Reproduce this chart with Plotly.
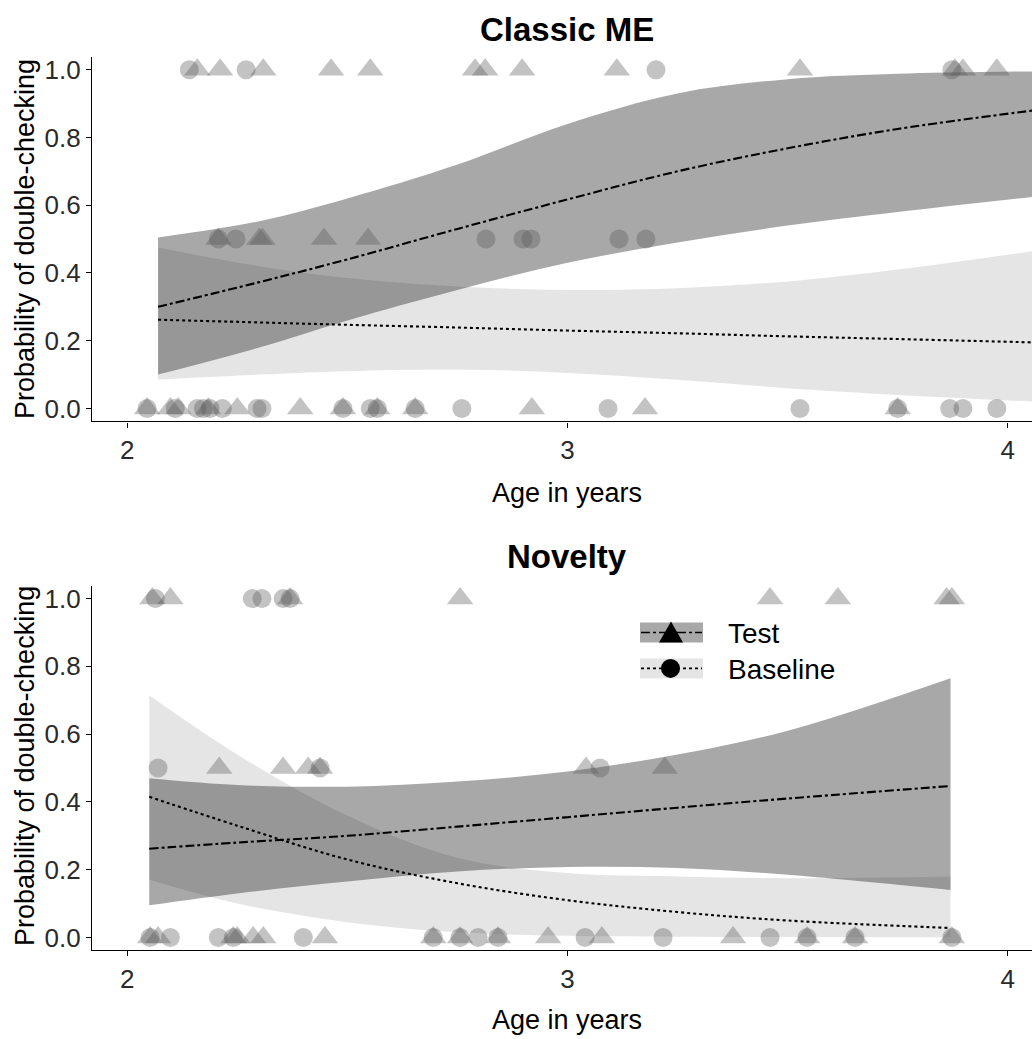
import plotly.graph_objects as go

# ---------------- data ----------------
# Classic ME panel: model fits (age in years -> probability)
top_age = [2.07, 2.3, 2.5, 2.75, 3.0, 3.25, 3.5, 3.75, 4.06]
top_test_fit = [0.30, 0.373, 0.44, 0.53, 0.617, 0.70, 0.768, 0.825, 0.88]
top_test_lo = [0.10, 0.18, 0.26, 0.35, 0.43, 0.49, 0.54, 0.58, 0.625]
top_test_hi = [0.505, 0.553, 0.62, 0.72, 0.84, 0.93, 0.972, 0.988, 0.995]
top_base_fit = [0.262, 0.254, 0.247, 0.239, 0.23, 0.222, 0.213, 0.205, 0.195]
top_base_lo = [0.085, 0.10, 0.11, 0.115, 0.105, 0.085, 0.06, 0.04, 0.02]
top_base_hi = [0.475, 0.42, 0.385, 0.36, 0.35, 0.355, 0.375, 0.41, 0.465]

# Classic ME raw observations
top_test_age_1 = [2.159, 2.211, 2.309, 2.463, 2.552, 2.790, 2.813, 2.897, 3.112, 3.528, 3.880, 3.898, 3.975]
top_test_age_05 = [2.207, 2.300, 2.307, 2.447, 2.547]
top_test_age_0 = [2.045, 2.098, 2.116, 2.184, 2.250, 2.393, 2.490, 2.568, 2.654, 2.919, 3.176, 3.750]
top_base_age_1 = [2.141, 2.270, 3.201, 3.873]
top_base_age_05 = [2.207, 2.247, 2.815, 2.899, 2.917, 3.117, 3.178]
top_base_age_0 = [2.045, 2.109, 2.159, 2.173, 2.188, 2.216, 2.295, 2.306, 2.490, 2.552, 2.568,
                  2.654, 2.760, 3.092, 3.528, 3.750, 3.868, 3.898, 3.975]

# Novelty panel: model fits
bot_age = [2.05, 2.25, 2.5, 2.75, 3.0, 3.25, 3.5, 3.87]
bot_test_fit = [0.262, 0.28, 0.30, 0.327, 0.355, 0.383, 0.41, 0.447]
bot_test_lo = [0.095, 0.13, 0.165, 0.195, 0.208, 0.205, 0.185, 0.14]
bot_test_hi = [0.47, 0.45, 0.445, 0.46, 0.49, 0.54, 0.61, 0.765]
bot_base_fit = [0.415, 0.33, 0.23, 0.16, 0.11, 0.075, 0.05, 0.028]
bot_base_lo = [0.17, 0.10, 0.045, 0.015, 0.005, 0.002, 0.001, 0.0003]
bot_base_hi = [0.715, 0.54, 0.36, 0.235, 0.19, 0.18, 0.175, 0.18]

# Novelty raw observations
bot_test_age_1 = [2.057, 2.098, 2.370, 2.756, 3.460, 3.614, 3.861, 3.873]
bot_test_age_05 = [2.209, 2.354, 2.411, 2.438, 3.042, 3.221]
bot_test_age_0 = [2.052, 2.070, 2.241, 2.250, 2.286, 2.309, 2.449, 2.695, 2.756, 2.842, 2.956,
                  3.078, 3.376, 3.544, 3.653, 3.873]
bot_base_age_1 = [2.064, 2.284, 2.306, 2.354, 2.370]
bot_base_age_05 = [2.070, 2.438, 3.074]
bot_base_age_0 = [2.052, 2.098, 2.207, 2.241, 2.400, 2.695, 2.756, 2.797, 2.842, 3.040, 3.217,
                  3.460, 3.544, 3.653, 3.873]

x_ticks = [2, 3, 4]
y_ticks = [0.0, 0.2, 0.4, 0.6, 0.8, 1.0]
y_tick_text = ["0.0", "0.2", "0.4", "0.6", "0.8", "1.0"]
panel_titles = ["Classic ME", "Novelty"]
legend_labels = ["Test", "Baseline"]

# ---------------- styles ----------------
DARK = "rgba(0,0,0,0.34)"
LIGHT = "rgba(0,0,0,0.10)"
PT = "rgba(90,90,90,0.36)"
FONT = "Liberation Sans, Arial, sans-serif"
W, H = 1032, 1039
ML = 92

fig = go.Figure()


def ribbon(x, lo, hi, color, xa, ya):
    fig.add_trace(go.Scatter(x=x, y=lo, mode="lines", line=dict(width=0, shape="spline"),
                             hoverinfo="skip", showlegend=False, xaxis=xa, yaxis=ya))
    fig.add_trace(go.Scatter(x=x, y=hi, mode="lines", line=dict(width=0, shape="spline"),
                             fill="tonexty", fillcolor=color, hoverinfo="skip",
                             showlegend=False, xaxis=xa, yaxis=ya))


def points(ages1, ages05, ages0, symbol, size, xa, ya):
    xs = list(ages1) + list(ages05) + list(ages0)
    ys = [1.0] * len(ages1) + [0.5] * len(ages05) + [0.0] * len(ages0)
    fig.add_trace(go.Scatter(x=xs, y=ys, mode="markers",
                             marker=dict(symbol=symbol, size=size, color=PT, line=dict(width=0)),
                             showlegend=False, xaxis=xa, yaxis=ya))


def fitline(x, y, dash, xa, ya):
    fig.add_trace(go.Scatter(x=x, y=y, mode="lines",
                             line=dict(color="black", width=2.1, dash=dash, shape="spline"),
                             showlegend=False, xaxis=xa, yaxis=ya))


panels = [
    ("x", "y", top_age, top_test_fit, top_test_lo, top_test_hi, top_base_fit, top_base_lo, top_base_hi,
     (top_test_age_1, top_test_age_05, top_test_age_0), (top_base_age_1, top_base_age_05, top_base_age_0)),
    ("x2", "y2", bot_age, bot_test_fit, bot_test_lo, bot_test_hi, bot_base_fit, bot_base_lo, bot_base_hi,
     (bot_test_age_1, bot_test_age_05, bot_test_age_0), (bot_base_age_1, bot_base_age_05, bot_base_age_0)),
]

for xa, ya, age, tf, tl, th, bf, bl, bh, tpts, bpts in panels:
    ribbon(age, bl, bh, LIGHT, xa, ya)
    ribbon(age, tl, th, DARK, xa, ya)
    points(bpts[0], bpts[1], bpts[2], "circle", 19, xa, ya)
    points(tpts[0], tpts[1], tpts[2], "triangle-up", 23, xa, ya)
    fitline(age, bf, "dot", xa, ya)
    fitline(age, tf, "dashdot", xa, ya)


def py(px):
    return (H - px) / H


def pxx(px):
    return (px - ML) / (W - ML)


axis_common = dict(showgrid=False, zeroline=False, showline=True, linecolor="black", linewidth=1.3,
                   ticks="outside", ticklen=5, tickwidth=1.2, tickcolor="black",
                   tickfont=dict(family=FONT, size=26, color="#2a2a2a"))

fig.update_layout(
    width=W, height=H,
    margin=dict(l=ML, r=0, t=0, b=0),
    paper_bgcolor="white", plot_bgcolor="white",
    showlegend=False,
    xaxis=dict(domain=[0, 1], range=[1.92, 4.055], anchor="y", tickvals=x_ticks, **axis_common),
    yaxis=dict(domain=[py(421), py(55)], range=[-0.038, 1.038], anchor="x", tickvals=y_ticks,
               ticktext=y_tick_text, **axis_common),
    xaxis2=dict(domain=[0, 1], range=[1.92, 4.055], anchor="y2", tickvals=x_ticks, **axis_common),
    yaxis2=dict(domain=[py(952), py(586)], range=[-0.038, 1.038], anchor="x2", tickvals=y_ticks,
                ticktext=y_tick_text, **axis_common),
)

ann = []
for title, ty, xt_y, yt_y in [(panel_titles[0], 28, 493, 238), (panel_titles[1], 557, 1022, 767)]:
    ann.append(dict(text="<b>%s</b>" % title, x=pxx(567), y=py(ty), xref="paper", yref="paper",
                    showarrow=False, xanchor="center", yanchor="middle",
                    font=dict(family=FONT, size=33, color="black")))
    ann.append(dict(text="Age in years", x=pxx(567), y=py(xt_y), xref="paper", yref="paper",
                    showarrow=False, xanchor="center", yanchor="middle",
                    font=dict(family=FONT, size=27, color="black")))
    ann.append(dict(text="Probability of double-checking", x=pxx(25), y=py(yt_y), xref="paper",
                    yref="paper", showarrow=False, textangle=-90, xanchor="center", yanchor="middle",
                    font=dict(family=FONT, size=27, color="black")))

# ---------------- manual legend (paper coordinates) ----------------
shapes = []
leg_rows = [(legend_labels[0], 633, DARK, "dashdot", "tri"),
            (legend_labels[1], 669, LIGHT, "dot", "circ")]
for label, cy, col, dash, sym in leg_rows:
    shapes.append(dict(type="rect", xref="paper", yref="paper", x0=pxx(640), x1=pxx(703),
                       y0=py(cy + 10), y1=py(cy - 10), fillcolor=col, line=dict(width=0)))
    shapes.append(dict(type="line", xref="paper", yref="paper", x0=pxx(641), x1=pxx(702),
                       y0=py(cy), y1=py(cy), line=dict(color="black", width=1.6, dash=dash)))
    if sym == "tri":
        path = "M %f %f L %f %f L %f %f Z" % (pxx(659), py(cy + 10), pxx(683), py(cy + 10),
                                               pxx(671), py(cy - 11))
        shapes.append(dict(type="path", xref="paper", yref="paper", path=path,
                           fillcolor="black", line=dict(width=0)))
    else:
        shapes.append(dict(type="circle", xref="paper", yref="paper", x0=pxx(661), x1=pxx(680),
                           y0=py(cy + 9.5), y1=py(cy - 9.5), fillcolor="black", line=dict(width=0)))
    ann.append(dict(text=label, x=pxx(726), y=py(cy + 1), xref="paper", yref="paper", showarrow=False,
                    xanchor="left", yanchor="middle",
                    font=dict(family=FONT, size=28, color="black")))

fig.update_layout(annotations=ann, shapes=shapes)
fig.write_html("out.html", config={"displayModeBar": False},
               post_script="document.body.style.margin='0';")
